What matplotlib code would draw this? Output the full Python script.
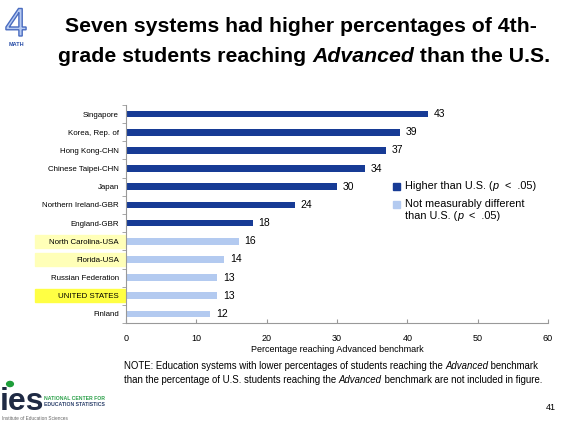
import matplotlib
matplotlib.use("Agg")
import matplotlib.pyplot as plt
from matplotlib.patches import Rectangle, Circle
import matplotlib.patheffects as pe
from matplotlib.textpath import TextPath
from matplotlib.patches import PathPatch
from matplotlib.font_manager import FontProperties
from matplotlib.transforms import Affine2D

plt.rcParams['font.family'] = ['Liberation Sans', 'DejaVu Sans']

countries = ["Singapore", "Korea, Rep. of", "Hong Kong-CHN", "Chinese Taipei-CHN",
             "Japan", "Northern Ireland-GBR", "England-GBR", "North Carolina-USA",
             "Florida-USA", "Russian Federation", "UNITED STATES", "Finland"]
values = [43, 39, 37, 34, 30, 24, 18, 16, 14, 13, 13, 12]
higher = [True, True, True, True, True, True, True, False, False, False, False, False]
highlight = ["", "", "", "", "", "", "", "light", "light", "", "strong", ""]
xticks = [0, 10, 20, 30, 40, 50, 60]

DARK = "#173B95"
LIGHT = "#B3CAF0"

W, H = 563, 426
fig = plt.figure(figsize=(W/100, H/100), dpi=100)
AX_TOP, AX_BOT = 105, 323
ax = fig.add_axes([126/W, 1-AX_BOT/H, 422/W, (AX_BOT-AX_TOP)/H])
ax.patch.set_alpha(0)
n = len(countries)
step = (AX_BOT - AX_TOP) / n

ypos = list(range(n))
colors = [DARK if h else LIGHT for h in higher]
ax.barh(ypos, values, height=0.37, color=colors)
for y, v in zip(ypos, values):
    ax.text(v + 0.8, y, str(v), va='center', ha='left', fontsize=7.5, color='black')

ax.set_xlim(0, 60)
ax.set_ylim(n - 0.5, -0.5)
ax.set_xticks(xticks)
ax.set_xticklabels([str(t) for t in xticks], fontsize=6.5)
ax.tick_params(axis='x', direction='in', length=3, color='#999999', pad=8)
ax.set_yticks(ypos)
ax.set_yticklabels(countries, fontsize=5.7)
ax.tick_params(axis='y', length=0, pad=5)
ax.set_yticks([i + 0.5 for i in range(-1, n)], minor=True)
ax.tick_params(axis='y', which='minor', direction='out', length=3, color='#999999')
for s in ['top', 'right']:
    ax.spines[s].set_visible(False)
for s in ['left', 'bottom']:
    ax.spines[s].set_color('#999999')
ax.set_xlabel("Percentage reaching Advanced benchmark", fontsize=6.5, labelpad=1)

# highlight boxes behind the labels
for y, h in zip(ypos, highlight):
    if h:
        col = "#FFFFB8" if h == "light" else "#FFFF44"
        yc = AX_TOP + (y + 0.5) * step
        fig.patches.append(Rectangle((35/W, 1-(yc+6.5)/H), 90/W, 13/H,
                                     transform=fig.transFigure, color=col, zorder=-5))

def line(x, y, parts, fontsize, ha='left', **kw):
    r = fig.canvas.get_renderer()
    widths = []
    for txt, st in parts:
        t = fig.text(0, 0, txt, fontsize=fontsize, style=st, **kw)
        widths.append(t.get_window_extent(renderer=r).width / fig.bbox.width)
        t.remove()
    if ha == 'center':
        x = x - sum(widths) / 2
    for (txt, st), w in zip(parts, widths):
        fig.text(x, y, txt, fontsize=fontsize, style=st, va='center', **kw)
        x += w

# Legend
fig.patches.append(Rectangle((393/W, 1-190/H), 7/W, 7/H, transform=fig.transFigure, color=DARK))
fig.patches.append(Rectangle((393/W, 1-208/H), 7/W, 7/H, transform=fig.transFigure, color=LIGHT))
line(405/W, 1-186/H, [("Higher than U.S. (", 'normal'), ("p", 'italic'), ("  <  .05)", 'normal')], 7.8)
line(405/W, 1-204/H, [("Not measurably different", 'normal')], 7.8)
line(405/W, 1-216/H, [("than U.S. (", 'normal'), ("p", 'italic'), ("  <  .05)", 'normal')], 7.8)

# Title
line(301/W, 1-27/H, [("Seven systems had higher percentages of 4th-", 'normal')], 15.3,
     ha='center', weight='bold')
line(304/W, 1-57/H, [("grade students reaching ", 'normal'), ("Advanced", 'italic'),
                     (" than the U.S.", 'normal')], 15.3, ha='center', weight='bold')

# "4 MATH" logo: big outlined glyph drawn as a path (pixel coordinates)
tp = TextPath((0, 0), "4", size=40, prop=FontProperties(family='Liberation Sans'))
ext = tp.get_extents()
tr = Affine2D().translate(-(ext.x0 + ext.x1) / 2, -ext.y0).translate(16, H - 36)
glyph = PathPatch(tr.transform_path(tp), facecolor='#B7CBF2', edgecolor='#4A6CC0', lw=1.0,
                  transform=None)
fig.patches.append(glyph)
fig.text(16/W, 1-45/H, "MATH", fontsize=4, color='#2A4FA8', ha='center', va='center', weight='bold')

# Note
line(124/W, 1-366/H, [("NOTE: Education systems with lower percentages of students reaching the ", 'normal'),
                      ("Advanced", 'italic'), (" benchmark", 'normal')], 6.9)
line(124/W, 1-380/H, [("than the percentage of U.S. students reaching the ", 'normal'),
                      ("Advanced", 'italic'), (" benchmark are not included in figure.", 'normal')], 6.9)

# page number
fig.text(556/W, 1-407/H, "41", fontsize=6.5, ha='right', va='center')

# ies logo
fig.text(0/W, 1-402/H, "ies", fontsize=23, weight='bold', color='#1F2A44', va='center')
fig.patches.append(Circle((10/W, 1-384/H), 0.006, transform=fig.transFigure, color='#1E9E3A'))
fig.text(44/W, 1-398/H, "NATIONAL CENTER FOR", fontsize=3.7, weight='bold', color='#2AA048', va='center')
fig.text(44/W, 1-404/H, "EDUCATION STATISTICS", fontsize=3.7, weight='bold', color='#2A3F6A', va='center')
fig.text(2/W, 1-418/H, "Institute of Education Sciences", fontsize=3.4, color='#666666', va='center')

fig.savefig("out.png", dpi=100)
